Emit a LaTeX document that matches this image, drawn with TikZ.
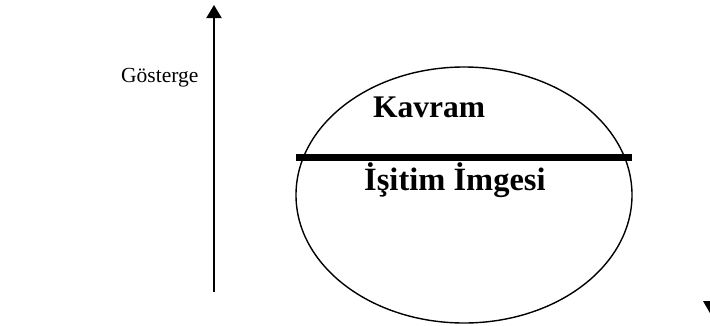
\documentclass[tikz,border=0pt]{standalone}
\usepackage{fontspec}
\setmainfont{Liberation Serif}
\usetikzlibrary{arrows.meta}
\tikzset{
  lbl/.style={anchor=base west, inner sep=0pt, font=\fontsize{21.5}{26}\selectfont},
  blbl/.style={anchor=base west, inner sep=0pt, font=\fontsize{31.5}{36}\selectfont\bfseries},
  outline/.style={line width=1.4pt},
  bar/.style={line width=7pt},
  uparrow/.style={line width=2pt, -{Triangle[length=13pt,width=15pt]}}
}
\begin{document}
\begin{tikzpicture}[x=1pt,y=-1pt]
\useasboundingbox (0,0) rectangle (710,325);
\node[lbl] (gos) at (121,82) {Gösterge};
\coordinate (abot) at (214,292);
\coordinate (atop) at (214,5);
\draw[uparrow] (abot) -- (atop);
\draw[outline] (464,195) ellipse [x radius=168, y radius=128];
\coordinate (bl) at (296,157);
\coordinate (br) at (632,157);
\draw[bar] (bl) -- (br);
\node[blbl] (kav) at (373,117) {Kavram};
\node[blbl, font=\fontsize{32.5}{37}\selectfont\bfseries] (isi) at (364,190) {İşitim İmgesi};
\fill (703,301) -- (718,301) -- (710.5,314) -- cycle;
\end{tikzpicture}
\end{document}
